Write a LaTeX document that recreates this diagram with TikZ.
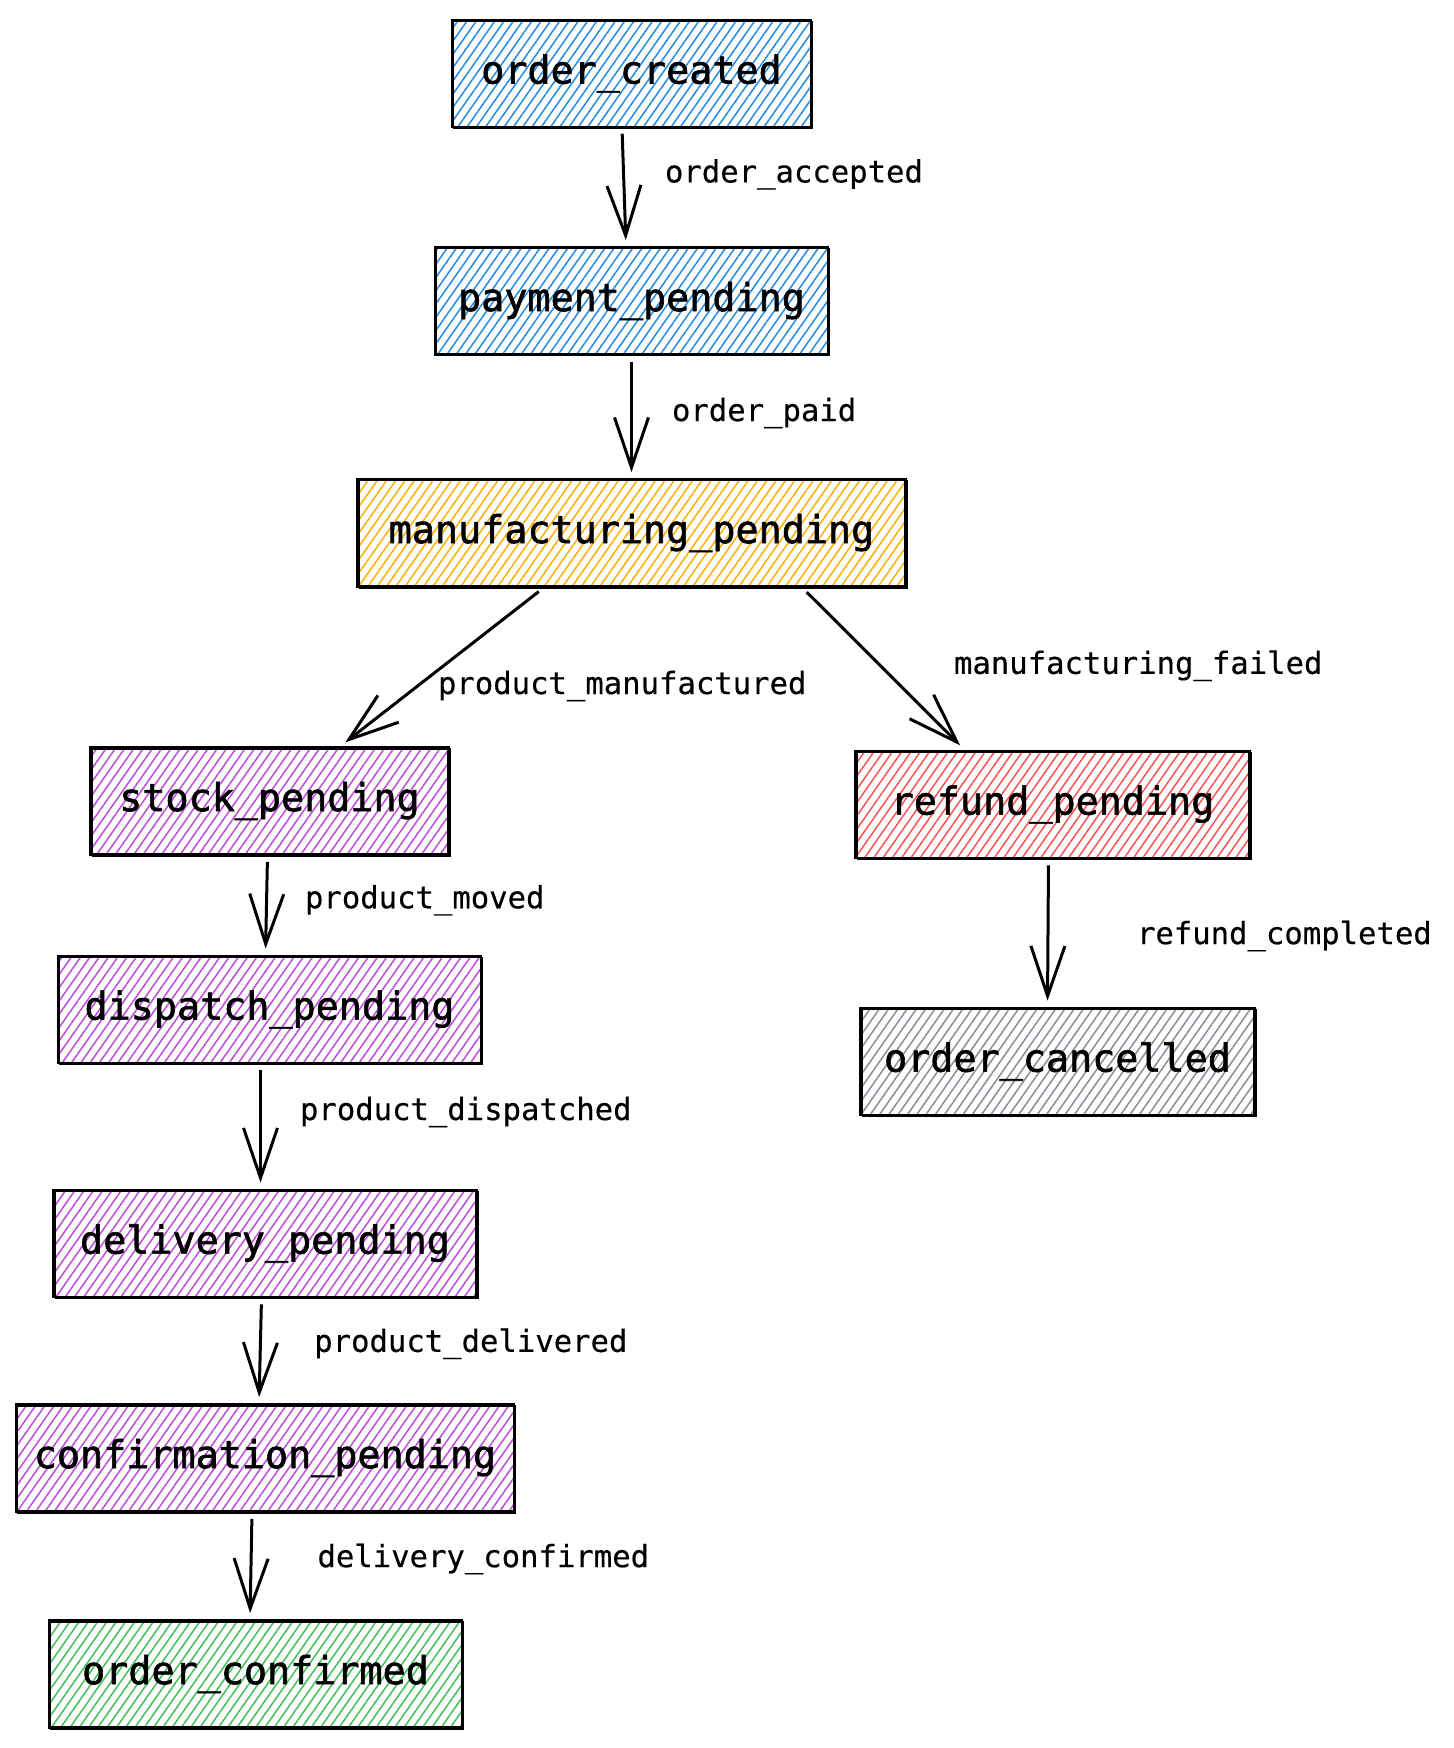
\documentclass[tikz,border=0pt]{standalone}
\usepackage{fontspec}
\setmonofont{DejaVu Sans Mono}
\newfontfamily\statefont{DejaVu Sans Mono}[FakeBold=1.6]
\newfontfamily\eventfont{DejaVu Sans Mono}[FakeBold=0.4]
\usetikzlibrary{positioning, arrows.meta, patterns.meta}
\definecolor{hblue}{HTML}{228BE6}
\definecolor{horange}{HTML}{FAB005}
\definecolor{hpurple}{HTML}{BE4BDB}
\definecolor{hred}{HTML}{FA5252}
\definecolor{hgray}{HTML}{868E96}
\definecolor{hgreen}{HTML}{40C057}
\begin{document}
\begin{tikzpicture}[on grid,
    main/.style = {draw, line width=1.4pt, minimum height=53.5pt, inner xsep=8pt,
      pattern={Lines[angle=55, distance=3.8pt, line width=0.75pt]},
      font=\statefont\fontsize{19.2}{23}\selectfont,
      postaction={draw, line width=0.6pt, transform canvas={shift={(0.9pt,-0.7pt)}}}},
    arr/.style = {-{Straight Barb[length=25pt, width=17pt]}, line width=1.5pt,
      shorten <=3pt, shorten >=3pt},
    lbl/.style = {anchor=west, inner sep=0pt, font=\eventfont\fontsize{15.3}{18}\selectfont}]
    \useasboundingbox (-315.75pt,36.75pt) rectangle (410.75pt,-837.25pt);
    \node[main, pattern color=hblue, minimum width=179.5pt] (created) {order\_created};
    \node[main, pattern color=hblue, minimum width=196.5pt] (payment) [below=113.75pt of created] {payment\_pending};
    \node[main, pattern color=horange, minimum width=274pt] (manuf) [below=116pt of payment] {manufacturing\_pending};
    \node[main, pattern color=hpurple, minimum width=179pt] (stock) [below left=134pt and 181pt of manuf] {stock\_pending};
    \node[main, pattern color=hred, minimum width=197pt] (refund) [below right=135.75pt and 210.5pt of manuf] {refund\_pending};
    \node[main, pattern color=hpurple, minimum width=211.5pt] (dispatch) [below=104.25pt of stock] {dispatch\_pending};
    \node[main, pattern color=hpurple, minimum width=211.5pt] (delivery) [below=117pt of dispatch, xshift=-2.25pt] {delivery\_pending};
    \node[main, pattern color=hpurple, minimum width=249pt] (confirmation) [below=107.25pt of delivery] {confirmation\_pending};
    \node[main, pattern color=hgreen, minimum width=206.5pt] (confirmed) [below=108pt of confirmation, xshift=-4.75pt] {order\_confirmed};
    \node[main, pattern color=hgray, minimum width=197pt] (cancelled) [below=128.5pt of refund, xshift=2.5pt] {order\_cancelled};
    % transitions
    \draw[arr] ([xshift=-4.75pt]created.south) -- node[lbl, xshift=19.75pt, yshift=6.25pt] {order\_accepted} ([xshift=-2.75pt]payment.north);
    \draw[arr] (payment) -- node[lbl, xshift=19.5pt, yshift=2pt] {order\_paid} (manuf);
    \draw[arr] ([xshift=-44pt]manuf.south) -- node[lbl, xshift=-2.75pt, yshift=-9.5pt] {product\_manufactured} ([xshift=35.5pt]stock.north);
    \draw[arr] ([xshift=85.5pt]manuf.south) -- node[lbl, xshift=34.5pt, yshift=1.5pt] {manufacturing\_failed} ([xshift=-44pt]refund.north);
    \draw[arr] ([xshift=-1pt]stock.south) -- node[lbl, xshift=18.5pt, yshift=2.5pt] {product\_moved} ([xshift=-2pt]dispatch.north);
    \draw[arr] ([xshift=-4.5pt]dispatch.south) -- node[lbl, xshift=19pt, yshift=7.25pt] {product\_dispatched} ([xshift=-2.25pt]delivery.north);
    \draw[arr] ([xshift=-1.75pt]delivery.south) -- node[lbl, xshift=26.25pt, yshift=3.5pt] {product\_delivered} ([xshift=-3pt]confirmation.north);
    \draw[arr] ([xshift=-6.5pt]confirmation.south) -- node[lbl, xshift=32.5pt, yshift=3.5pt] {delivery\_confirmed} ([xshift=-2.75pt]confirmed.north);
    \draw[arr] ([xshift=-2pt]refund.south) -- node[lbl, xshift=43.75pt, yshift=-1.5pt] {refund\_completed} ([xshift=-5pt]cancelled.north);
\end{tikzpicture}
\end{document}
